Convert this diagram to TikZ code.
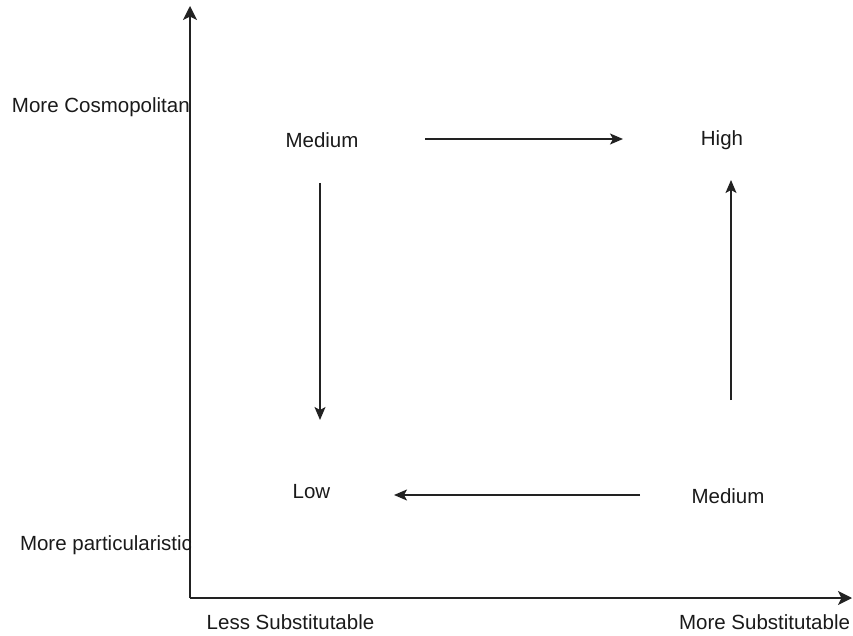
\documentclass[tikz,border=0pt]{standalone}
\usepackage{fontspec}
\setmainfont{Liberation Sans}
\usetikzlibrary{arrows.meta}
\definecolor{linec}{HTML}{222222}
\definecolor{textc}{HTML}{1A1A1A}
\tikzset{
  lbl/.style={inner sep=0pt, outer sep=0pt, text=textc, font=\fontsize{20.5}{24}\selectfont},
  axisline/.style={draw=linec, line width=1.5pt, -{Stealth[length=14pt,width=14pt,inset=3.5pt]}},
  flow/.style={draw=linec, line width=1.3pt, -{Stealth[length=13pt,width=11pt,inset=3pt]}}
}
\begin{document}
\begin{tikzpicture}[x=1pt,y=-1pt]
\useasboundingbox (0,0) rectangle (853,636);
% axes
\coordinate (origin) at (190,598);
\coordinate (ytip) at (190,6);
\coordinate (xtip) at (852,598);
\draw[axisline] (origin) -- (ytip);
\draw[axisline] (origin) -- (xtip);
% axis labels
\node[lbl, anchor=base west] (cosmo) at (12,113) {More Cosmopolitan};
\node[lbl, anchor=base west] (partic) at (20,550) {More particularistic};
\node[lbl, anchor=base] (lesssub) at (290.5,629) {Less Substitutable};
\node[lbl, anchor=base east] (moresub) at (850,629) {More Substitutable};
% quadrant labels
\node[lbl, anchor=base] (medtop) at (322,148) {Medium};
\node[lbl, anchor=base] (high) at (722,146) {High};
\node[lbl, anchor=base] (low) at (311.5,498) {Low};
\node[lbl, anchor=base] (medbot) at (728,503) {Medium};
% arrow end points
\coordinate (a1s) at (425,139);
\coordinate (a1e) at (623,139);
\coordinate (a2s) at (731,400);
\coordinate (a2e) at (731,180);
\coordinate (a3s) at (640,495);
\coordinate (a3e) at (394,495);
\coordinate (a4s) at (320,183);
\coordinate (a4e) at (320,420);
\draw[flow] (a1s) -- (a1e);
\draw[flow] (a2s) -- (a2e);
\draw[flow] (a3s) -- (a3e);
\draw[flow] (a4s) -- (a4e);
\end{tikzpicture}
\end{document}
